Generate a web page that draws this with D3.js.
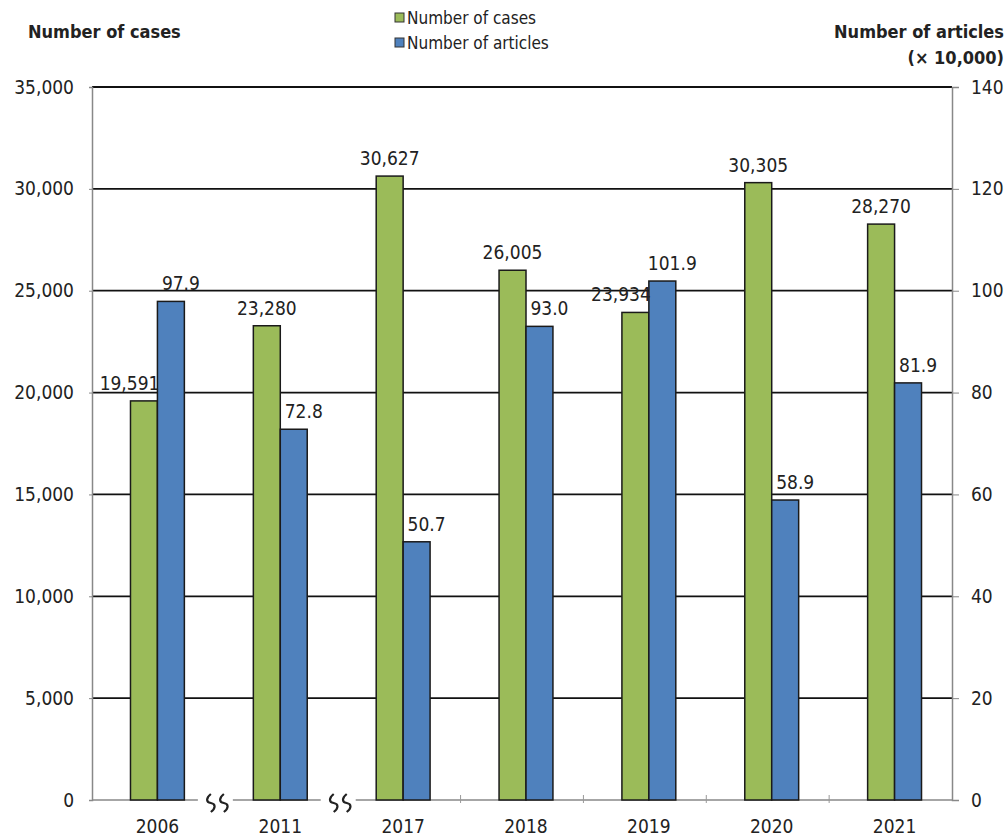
<!DOCTYPE html>
<html>
<head>
<meta charset="utf-8">
<script src="https://cdn.jsdelivr.net/npm/d3@7"></script>
<style>
  html, body { margin: 0; padding: 0; background: #fff; }
  svg { display: block; }
  text { font-family: "DejaVu Sans Condensed", "DejaVu Sans", sans-serif; fill: #222; }
</style>
</head>
<body>
<script>
// ---- data ----
const categories = ["2006", "2011", "2017", "2018", "2019", "2020", "2021"];
const cases = [19591, 23280, 30627, 26005, 23934, 30305, 28270];
const articles = [97.9, 72.8, 50.7, 93.0, 101.9, 58.9, 81.9];
const caseLabels = ["19,591", "23,280", "30,627", "26,005", "23,934", "30,305", "28,270"];
const articleLabels = ["97.9", "72.8", "50.7", "93.0", "101.9", "58.9", "81.9"];
const leftTicks = [0, 5000, 10000, 15000, 20000, 25000, 30000, 35000];
const rightTicks = [0, 20, 40, 60, 80, 100, 120, 140];
const breaksAfter = ["2006", "2011"]; // axis breaks after these categories
const seriesNames = ["Number of cases", "Number of articles"];

// ---- layout ----
const W = 1008, H = 836;
const plotL = 92, plotR = 952, plotT = 87, plotB = 800;
const green = "#9BBB59", blue = "#4F81BD";
const fs = "19px";

const svg = d3.select("body").append("svg").attr("width", W).attr("height", H);

const x = d3.scaleBand().domain(categories).range([96, 956]).paddingInner(0).paddingOuter(0);
const xs = d3.scaleBand().domain(["cases", "articles"]).range([0, x.bandwidth()]).paddingOuter(1.28).paddingInner(0);
const yL = d3.scaleLinear().domain([0, 35000]).range([plotB, plotT]);
const yR = d3.scaleLinear().domain([0, 140]).range([plotB, plotT]);

// gridlines
svg.append("g").selectAll("line").data(leftTicks.filter(d => d > 0)).join("line")
  .attr("x1", plotL).attr("x2", plotR)
  .attr("y1", d => yL(d)).attr("y2", d => yL(d))
  .attr("stroke", "#111").attr("stroke-width", 1.8);

// left axis
const leftAxis = svg.append("g").attr("transform", `translate(${plotL},0)`)
  .call(d3.axisLeft(yL).tickValues(leftTicks).tickFormat(d3.format(",")).tickSize(3).tickPadding(15));
leftAxis.select(".domain").attr("stroke", "#888").attr("stroke-width", 1.5);
leftAxis.selectAll(".tick line").attr("stroke", "#888");
leftAxis.selectAll(".tick text").style("font-size", fs).style("font-family", "DejaVu Sans Condensed").attr("fill", "#222");

// right axis
const rightAxis = svg.append("g").attr("transform", `translate(${plotR},0)`)
  .call(d3.axisRight(yR).tickValues(rightTicks).tickFormat(d3.format("d")).tickSize(7).tickPadding(12));
rightAxis.select(".domain").attr("stroke", "#888").attr("stroke-width", 1.5);
rightAxis.selectAll(".tick line").attr("stroke", "#888");
rightAxis.selectAll(".tick text").style("font-size", fs).style("font-family", "DejaVu Sans Condensed").attr("fill", "#222");

// bottom axis (baseline with breaks)
const breakXs = breaksAfter.map(c => x(c) + x.bandwidth() - 2);
const segs = [];
let start = plotL;
breakXs.forEach(bx => { segs.push([start, bx - 19]); start = bx + 16; });
segs.push([start, plotR]);
svg.append("g").selectAll("line").data(segs).join("line")
  .attr("x1", d => d[0]).attr("x2", d => d[1])
  .attr("y1", plotB).attr("y2", plotB)
  .attr("stroke", "#888").attr("stroke-width", 1.5);

// category tick marks between categories (except breaks)
const tickXs = categories.slice(0, -1).filter(c => !breaksAfter.includes(c)).map(c => x(c) + x.bandwidth() - 4);
svg.append("g").selectAll("line").data(tickXs).join("line")
  .attr("x1", d => d).attr("x2", d => d).attr("y1", plotB - 5).attr("y2", plotB + 3)
  .attr("stroke", "#999").attr("stroke-width", 1);

// break symbols
const squiggle = "M0,-9 C-5,-5 -5,-1 0,0 C5,1 5,5 0,9";
const brk = svg.append("g").selectAll("g").data(breakXs).join("g")
  .attr("transform", d => `translate(${d},${plotB + 3})`);
brk.append("path").attr("d", squiggle).attr("transform", "translate(-6,0)")
  .attr("fill", "none").attr("stroke", "#222").attr("stroke-width", 2.2);
brk.append("path").attr("d", squiggle).attr("transform", "translate(7,0)")
  .attr("fill", "none").attr("stroke", "#222").attr("stroke-width", 2.2);

// category labels
svg.append("g").selectAll("text").data(categories).join("text")
  .attr("x", d => x(d) + x.bandwidth() / 2)
  .attr("y", 833)
  .attr("text-anchor", "middle")
  .style("font-size", fs)
  .text(d => d);

// bars
const groups = svg.append("g").selectAll("g").data(categories).join("g")
  .attr("transform", d => `translate(${x(d)},0)`);
groups.append("rect")
  .attr("x", xs("cases")).attr("width", xs.bandwidth())
  .attr("y", (d, i) => yL(cases[i])).attr("height", (d, i) => plotB - yL(cases[i]))
  .attr("fill", green).attr("stroke", "#1a1a1a").attr("stroke-width", 1.5);
groups.append("rect")
  .attr("x", xs("articles")).attr("width", xs.bandwidth())
  .attr("y", (d, i) => yR(articles[i])).attr("height", (d, i) => plotB - yR(articles[i]))
  .attr("fill", blue).attr("stroke", "#1a1a1a").attr("stroke-width", 1.5);

// data labels
const labelGap = 11;
groups.append("text")
  .each(function (d, i) {
    const gTop = yL(cases[i]);
    const bTop = yR(articles[i]);
    const sel = d3.select(this);
    if (bTop < gTop - labelGap - 14) {
      sel.attr("x", xs("cases") + xs.bandwidth() + 2).attr("text-anchor", "end");
    } else {
      sel.attr("x", xs("cases") + xs.bandwidth() / 2).attr("text-anchor", "middle");
    }
    sel.attr("y", gTop - labelGap);
  })
  .style("font-size", fs).attr("fill", "#333")
  .text((d, i) => caseLabels[i]);
groups.append("text")
  .attr("x", xs("articles") + xs.bandwidth() / 2 + 10)
  .attr("y", (d, i) => yR(articles[i]) - labelGap)
  .attr("text-anchor", "middle")
  .style("font-size", fs).attr("fill", "#333")
  .text((d, i) => articleLabels[i]);

// axis titles
svg.append("text").attr("x", 28).attr("y", 38).style("font-size", "18px").style("font-weight", "bold")
  .text("Number of cases");
svg.append("text").attr("x", 1004).attr("y", 38).attr("text-anchor", "end").style("font-size", "18px").style("font-weight", "bold")
  .text("Number of articles");
svg.append("text").attr("x", 1004).attr("y", 64).attr("text-anchor", "end").style("font-size", "18px").style("font-weight", "bold")
  .text("(× 10,000)");

// legend
const legend = svg.append("g").selectAll("g").data(seriesNames).join("g")
  .attr("transform", (d, i) => `translate(395,${13 + i * 25})`);
legend.append("rect").attr("width", 9).attr("height", 9).attr("y", 0)
  .attr("fill", (d, i) => i === 0 ? green : blue).attr("stroke", "#333").attr("stroke-width", 1);
legend.append("text").attr("x", 12).attr("y", 11).style("font-size", "17px")
  .text(d => d);
</script>
</body>
</html>
